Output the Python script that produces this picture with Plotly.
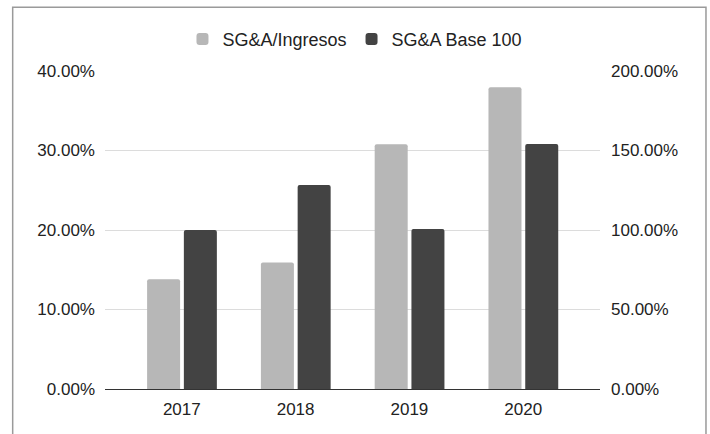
import plotly.graph_objects as go

years = ["2017", "2018", "2019", "2020"]
sga_ingresos = [0.138, 0.159, 0.308, 0.3795]
sga_base100 = [1.0, 1.283, 1.006, 1.541]
left_ticks = [0, 0.1, 0.2, 0.3, 0.4]
right_ticks = [0, 0.5, 1.0, 1.5, 2.0]

LIGHT = "#b7b7b7"
DARK = "#434343"
FONT = "Liberation Sans, Arial, sans-serif"

fig = go.Figure()
fig.add_trace(go.Bar(
    x=years, y=sga_ingresos, name="SG&A/Ingresos",
    marker=dict(color=LIGHT, line=dict(width=0)),
    width=0.29, offset=-0.305, yaxis="y",
))
fig.add_trace(go.Bar(
    x=years, y=sga_base100, name="SG&A Base 100",
    marker=dict(color=DARK, line=dict(width=0)),
    width=0.29, offset=0.018, yaxis="y2",
))

fig.update_layout(
    width=710, height=434,
    margin=dict(l=105, r=110, t=71, b=45),
    paper_bgcolor="white", plot_bgcolor="white",
    barmode="overlay", barcornerradius=2,
    font=dict(family=FONT, size=17, color="#222222"),
    showlegend=True,
    legend=dict(orientation="h", x=0.505, xanchor="center", y=1.10, yanchor="middle",
                font=dict(size=18, color="#222222"), itemclick=False, traceorder="normal"),
    xaxis=dict(
        type="category", range=[-0.675, 3.675],
        showgrid=False, showline=True, linecolor="#333333", linewidth=1.3,
        ticks="", ticklabelstandoff=4, zeroline=False,
    ),
    yaxis=dict(
        range=[0, 0.4], tickvals=left_ticks, tickformat=".2%",
        showgrid=True, gridcolor="#dcdcdc", gridwidth=1.2,
        zeroline=False, showline=False, ticks="", ticklabelstandoff=9,
    ),
    yaxis2=dict(
        range=[0, 2.0], tickvals=right_ticks, tickformat=".2%",
        overlaying="y", side="right", showgrid=False,
        zeroline=False, showline=False, ticks="", ticklabelstandoff=10,
    ),
    shapes=[dict(
        type="rect", xref="paper", yref="paper",
        x0=-0.1865, x1=1.2141, y0=-0.2, y1=1.2003,
        line=dict(color="#9a9a9a", width=1.5), fillcolor="rgba(0,0,0,0)",
        layer="below",
    )],
)

fig.write_html(
    "out.html",
    config={"displayModeBar": False},
    post_script="document.body.style.margin='0';document.body.style.overflow='hidden';",
)
